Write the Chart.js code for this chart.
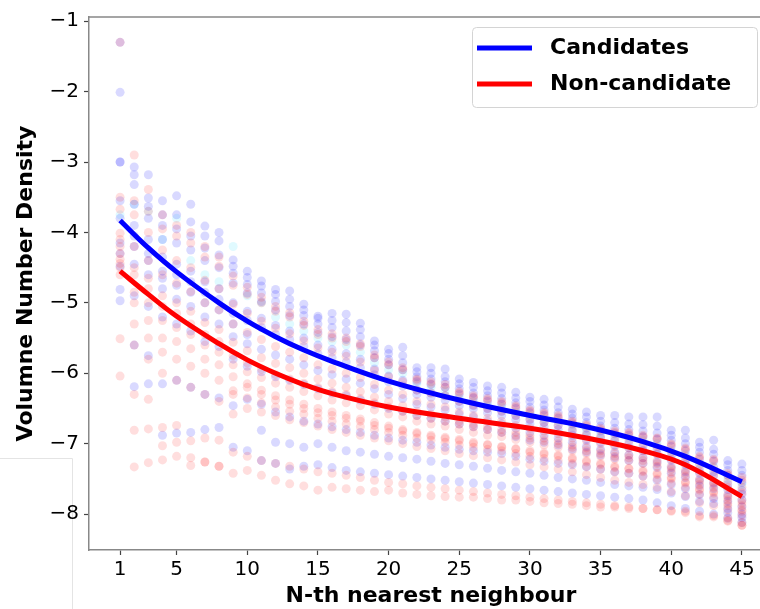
<!DOCTYPE html>
<html>
<head>
<meta charset="utf-8">
<script src="https://cdn.jsdelivr.net/npm/chart.js@4.4.1/dist/chart.umd.min.js"></script>
<style>
  html, body { margin: 0; padding: 0; background: #fff; overflow: hidden; }
  #wrap { position: absolute; left: 0; top: 0; width: 790px; height: 609px; }
</style>
</head>
<body>
<div id="wrap"><canvas id="densityChart"></canvas></div>
<script>
// N = 1..45
const nValues = [
  1, 2, 3, 4, 5, 6, 7, 8, 9, 10, 11, 12, 13, 14, 15, 16, 17, 18, 19, 20,
  21, 22, 23, 24, 25, 26, 27, 28, 29, 30, 31, 32, 33, 34, 35, 36, 37, 38, 39, 40,
  41, 42, 43, 44, 45,
];

const xTickValues = [1, 5, 10, 15, 20, 25, 30, 35, 40, 45];
const yTickValues = [-8, -7, -6, -5, -4, -3, -2, -1];

// fitted curves (read at a few N)
const curveN = [1, 3, 5, 8, 10, 12, 14, 16, 20, 25, 30, 34, 38, 41, 45];
const candidateCurve = [-3.83, -4.22, -4.56, -5.0, -5.26, -5.48, -5.67, -5.83, -6.11, -6.38, -6.6, -6.76, -6.97, -7.18, -7.54];
const nonCandidateCurve = [-4.55, -4.88, -5.19, -5.58, -5.81, -6.0, -6.16, -6.29, -6.48, -6.64, -6.78, -6.92, -7.1, -7.3, -7.75];

// one row per object: density at N = 1..45
const candidateTracks = [
  [-1.30, -3.07, -3.18, -3.55, -3.48, -3.60, -3.91, -4.00, -4.39, -4.55, -4.69, -4.81, -4.83, -5.02, -5.19, -5.15, -5.16, -5.29, -5.54, -5.66, -5.63, -5.92, -5.92, -5.94, -6.08, -6.13, -6.18, -6.20, -6.27, -6.34, -6.37, -6.39, -6.51, -6.55, -6.60, -6.60, -6.62, -6.62, -6.62, -6.81, -6.81, -6.98, -6.95, -7.24, -7.29],
  [-2.01, -3.18, -3.51, -3.75, -3.75, -3.85, -4.05, -4.12, -4.48, -4.64, -4.76, -4.88, -4.95, -5.10, -5.22, -5.25, -5.28, -5.38, -5.60, -5.72, -5.75, -5.98, -6.00, -6.05, -6.15, -6.20, -6.25, -6.28, -6.35, -6.40, -6.45, -6.48, -6.58, -6.62, -6.68, -6.70, -6.72, -6.73, -6.75, -6.88, -6.92, -7.05, -7.08, -7.30, -7.38],
  [-3.00, -3.32, -3.63, -3.90, -3.95, -4.05, -4.22, -4.32, -4.58, -4.74, -4.86, -4.98, -5.05, -5.18, -5.30, -5.35, -5.40, -5.48, -5.68, -5.80, -5.85, -6.05, -6.08, -6.12, -6.22, -6.28, -6.32, -6.36, -6.42, -6.48, -6.52, -6.56, -6.64, -6.70, -6.75, -6.78, -6.80, -6.82, -6.85, -6.95, -7.00, -7.12, -7.15, -7.38, -7.45],
  [-3.00, -3.60, -3.80, -4.10, -4.15, -4.25, -4.40, -4.50, -4.72, -4.86, -4.98, -5.10, -5.18, -5.30, -5.42, -5.48, -5.52, -5.60, -5.78, -5.88, -5.95, -6.12, -6.16, -6.20, -6.30, -6.35, -6.40, -6.44, -6.50, -6.56, -6.60, -6.64, -6.72, -6.78, -6.82, -6.86, -6.88, -6.90, -6.94, -7.04, -7.10, -7.22, -7.25, -7.45, -7.55],
  [-4.15, -4.05, -4.30, -4.55, -4.60, -4.70, -4.85, -4.95, -5.15, -5.25, -5.35, -5.45, -5.52, -5.62, -5.72, -5.78, -5.84, -5.92, -6.02, -6.12, -6.18, -6.30, -6.34, -6.38, -6.46, -6.50, -6.56, -6.60, -6.66, -6.72, -6.76, -6.80, -6.88, -6.94, -6.98, -7.02, -7.06, -7.10, -7.15, -7.24, -7.30, -7.42, -7.46, -7.65, -7.72],
  [-4.48, -4.45, -4.60, -4.80, -4.95, -5.05, -5.20, -5.30, -5.48, -5.58, -5.66, -5.74, -5.80, -5.88, -5.96, -6.02, -6.08, -6.14, -6.22, -6.30, -6.36, -6.44, -6.48, -6.52, -6.58, -6.62, -6.68, -6.72, -6.78, -6.84, -6.88, -6.92, -6.98, -7.04, -7.08, -7.12, -7.16, -7.20, -7.26, -7.34, -7.40, -7.52, -7.56, -7.74, -7.80],
  [-4.81, -4.90, -5.05, -5.20, -5.30, -5.40, -5.55, -5.62, -5.80, -5.90, -5.98, -6.05, -6.10, -6.16, -6.22, -6.28, -6.32, -6.38, -6.44, -6.50, -6.54, -6.60, -6.64, -6.68, -6.72, -6.76, -6.80, -6.84, -6.90, -6.95, -6.98, -7.02, -7.08, -7.12, -7.16, -7.20, -7.24, -7.28, -7.34, -7.42, -7.48, -7.60, -7.64, -7.82, -7.90],
  [-4.97, -6.19, -6.15, -6.88, -6.85, -6.84, -6.80, -6.77, -6.46, -6.37, -6.44, -6.55, -6.62, -6.68, -6.72, -6.76, -6.80, -6.84, -6.88, -6.92, -6.95, -6.98, -7.02, -7.05, -7.08, -7.10, -7.12, -7.14, -7.18, -7.22, -7.25, -7.28, -7.30, -7.33, -7.36, -7.40, -7.42, -7.46, -7.52, -7.58, -7.64, -7.72, -7.78, -7.92, -8.00],
  [-4.30, -5.60, -5.75, -6.15, -6.10, -6.20, -6.30, -6.35, -7.05, -7.10, -6.81, -6.98, -7.00, -7.05, -7.00, -7.05, -7.10, -7.12, -7.15, -7.18, -7.20, -7.22, -7.25, -7.28, -7.30, -7.32, -7.35, -7.38, -7.40, -7.42, -7.45, -7.48, -7.50, -7.52, -7.55, -7.58, -7.60, -7.62, -7.65, -7.70, -7.75, -7.82, -7.85, -7.98, -8.05],
  [-3.55, -3.90, -4.10, -4.35, -4.45, -4.55, -4.70, -4.80, -5.00, -5.12, -5.22, -5.32, -5.40, -5.50, -5.60, -5.66, -5.72, -5.80, -5.94, -6.04, -6.10, -6.24, -6.28, -6.32, -6.40, -6.46, -6.50, -6.54, -6.60, -6.66, -6.70, -6.74, -6.82, -6.88, -6.92, -6.96, -7.00, -7.04, -7.08, -7.18, -7.24, -7.36, -7.40, -7.58, -7.66],
  [-3.80, -4.20, -4.40, -4.65, -4.75, -4.85, -5.00, -5.10, -5.30, -5.45, -7.24, -7.28, -7.36, -7.32, -7.30, -7.34, -7.38, -7.40, -7.42, -7.44, -7.46, -7.48, -7.50, -7.52, -7.54, -7.56, -7.58, -7.60, -7.62, -7.64, -7.66, -7.68, -7.70, -7.72, -7.74, -7.76, -7.78, -7.80, -7.84, -7.88, -7.92, -7.96, -8.00, -8.06, -8.12],
];

const nonCandidateTracks = [
  [-1.30, -3.55, -3.70, -3.95, -4.05, -4.15, -4.35, -4.48, -4.75, -4.88, -5.00, -5.12, -5.20, -5.32, -5.45, -5.50, -5.55, -5.62, -5.78, -5.88, -5.95, -6.10, -6.15, -6.20, -6.28, -6.34, -6.38, -6.42, -6.48, -6.54, -6.58, -6.62, -6.70, -6.75, -6.80, -6.84, -6.86, -6.90, -6.93, -7.02, -7.08, -7.20, -7.24, -7.45, -7.52],
  [-3.50, -2.90, -3.39, -3.75, -3.90, -4.00, -4.20, -4.35, -4.62, -4.78, -4.92, -5.05, -5.14, -5.26, -5.38, -5.44, -5.50, -5.58, -5.74, -5.84, -5.92, -6.08, -6.12, -6.16, -6.26, -6.32, -6.36, -6.40, -6.46, -6.52, -6.56, -6.60, -6.68, -6.73, -6.78, -6.82, -6.84, -6.88, -6.92, -7.00, -7.06, -7.18, -7.22, -7.42, -7.48],
  [-3.67, -3.75, -4.00, -4.25, -4.40, -4.50, -4.68, -4.80, -5.02, -5.15, -5.26, -5.36, -5.44, -5.54, -5.64, -5.70, -5.76, -5.84, -5.96, -6.05, -6.12, -6.24, -6.28, -6.32, -6.40, -6.45, -6.50, -6.54, -6.60, -6.65, -6.70, -6.74, -6.80, -6.86, -6.90, -6.94, -6.96, -7.00, -7.04, -7.12, -7.18, -7.30, -7.34, -7.54, -7.62],
  [-4.01, -4.20, -4.40, -4.60, -4.72, -4.84, -5.00, -5.10, -5.30, -5.42, -5.52, -5.62, -5.70, -5.78, -5.88, -5.94, -6.00, -6.06, -6.16, -6.24, -6.30, -6.40, -6.44, -6.48, -6.55, -6.60, -6.64, -6.68, -6.74, -6.78, -6.82, -6.86, -6.92, -6.96, -7.00, -7.04, -7.06, -7.10, -7.14, -7.22, -7.28, -7.40, -7.44, -7.62, -7.70],
  [-4.30, -4.50, -4.65, -4.90, -5.00, -5.12, -5.28, -5.38, -5.56, -5.68, -5.78, -5.86, -5.92, -6.00, -6.08, -6.14, -6.20, -6.26, -6.34, -6.40, -6.46, -6.54, -6.58, -6.62, -6.68, -6.72, -6.76, -6.80, -6.84, -6.88, -6.92, -6.96, -7.02, -7.06, -7.10, -7.14, -7.16, -7.20, -7.24, -7.32, -7.38, -7.50, -7.55, -7.72, -7.80],
  [-4.44, -4.85, -5.00, -5.25, -5.35, -5.45, -5.60, -5.70, -5.88, -5.98, -6.06, -6.14, -6.20, -6.26, -6.32, -6.38, -6.42, -6.46, -6.52, -6.58, -6.62, -6.68, -6.72, -6.75, -6.80, -6.84, -6.88, -6.90, -6.94, -6.98, -7.02, -7.05, -7.10, -7.14, -7.18, -7.22, -7.24, -7.28, -7.32, -7.40, -7.46, -7.58, -7.62, -7.80, -7.88],
  [-5.51, -5.30, -5.50, -5.70, -5.80, -5.90, -6.00, -6.10, -6.25, -6.35, -6.42, -6.48, -6.54, -6.58, -6.64, -6.68, -6.72, -6.76, -6.80, -6.84, -6.88, -6.92, -6.95, -6.98, -7.02, -7.05, -7.08, -7.10, -7.14, -7.18, -7.21, -7.24, -7.28, -7.32, -7.36, -7.40, -7.42, -7.46, -7.50, -7.56, -7.62, -7.72, -7.76, -7.94, -8.02],
  [-6.04, -6.30, -6.37, -6.77, -6.74, -6.96, -6.92, -6.95, -6.58, -6.50, -6.55, -6.60, -6.66, -6.70, -6.75, -6.80, -6.84, -6.88, -6.92, -6.96, -7.00, -7.04, -7.07, -7.10, -7.14, -7.17, -7.20, -7.23, -7.26, -7.30, -7.33, -7.36, -7.40, -7.44, -7.48, -7.52, -7.55, -7.58, -7.62, -7.68, -7.74, -7.84, -7.88, -8.05, -8.12],
  [-4.20, -6.81, -6.79, -7.03, -6.98, -7.31, -7.26, -7.32, -7.12, -7.18, -7.24, -7.28, -7.32, -7.36, -7.40, -7.42, -7.45, -7.48, -7.52, -7.55, -7.57, -7.60, -7.62, -7.64, -7.66, -7.68, -7.70, -7.72, -7.74, -7.76, -7.78, -7.80, -7.82, -7.84, -7.86, -7.88, -7.90, -7.92, -7.94, -7.96, -7.98, -8.02, -8.04, -8.10, -8.16],
  [-4.50, -7.33, -7.27, -7.23, -7.18, -7.20, -7.26, -7.32, -7.42, -7.38, -7.45, -7.52, -7.57, -7.60, -7.66, -7.62, -7.64, -7.66, -7.68, -7.66, -7.70, -7.72, -7.74, -7.75, -7.76, -7.76, -7.78, -7.80, -7.80, -7.82, -7.84, -7.85, -7.86, -7.88, -7.90, -7.90, -7.92, -7.92, -7.94, -7.95, -7.96, -8.04, -8.02, -8.09, -8.16],
  [-4.10, -4.60, -4.80, -5.05, -5.15, -5.30, -5.45, -5.55, -5.75, -5.85, -5.94, -6.02, -6.08, -6.14, -6.20, -6.26, -6.30, -6.36, -6.42, -6.48, -6.54, -6.60, -6.64, -6.68, -6.72, -6.76, -6.80, -6.84, -6.88, -6.92, -6.96, -7.00, -7.05, -7.10, -7.14, -7.18, -7.20, -7.24, -7.28, -7.36, -7.42, -7.54, -7.58, -7.76, -7.84],
  [-4.60, -5.60, -5.80, -6.00, -6.10, -6.20, -6.30, -6.40, -6.30, -6.20, -6.30, -6.38, -6.44, -6.50, -6.56, -6.60, -6.64, -6.68, -6.74, -6.78, -6.82, -6.86, -6.90, -6.93, -6.96, -7.00, -7.02, -7.05, -7.08, -7.12, -7.15, -7.18, -7.22, -7.26, -7.30, -7.34, -7.36, -7.40, -7.44, -7.50, -7.56, -7.66, -7.70, -7.88, -7.96],
  [-4.38, -5.00, -5.25, -5.50, -5.55, -5.65, -5.80, -5.88, -6.05, -6.15, -6.24, -6.32, -6.38, -6.44, -6.50, -6.55, -6.60, -6.65, -6.70, -6.75, -6.80, -6.84, -6.88, -6.91, -6.94, -6.98, -7.01, -7.04, -7.07, -7.10, -7.13, -7.16, -7.20, -7.24, -7.28, -7.32, -7.35, -7.38, -7.42, -7.48, -7.54, -7.64, -7.68, -7.85, -7.94],
];

// a few faint cyan points
const otherTracks = [
  [-3.75, -3.60, -3.70, -4.10, -3.80, -4.40, -4.60, -4.70, -4.20, -4.90, -5.00, -5.20, -5.30, -5.40, -5.50, -5.55, -5.60, -5.70, -5.85, -5.95, -6.00, -6.15, -6.20, -6.25, -6.35, -6.40, -6.45, -6.48, -6.55, -6.60, -6.65, -6.68, -6.76, -6.82, -6.86, -6.90, -6.92, -6.95, -7.00, -7.10, -7.15, -7.28, -7.32, -7.50, -7.58],
];

const toPoints = (row) => row.map((v, i) => ({ x: nValues[i], y: v }));

const scatterSet = (row, color) => ({
  type: "scatter",
  data: toPoints(row),
  backgroundColor: color,
  borderWidth: 0,
  pointRadius: 4.5,
  pointHoverRadius: 4.5,
  order: 1,
});

const curveSet = (label, values, color) => ({
  type: "line",
  label: label,
  isCurve: true,
  data: curveN.map((n, i) => ({ x: n, y: values[i] })),
  borderColor: color,
  borderWidth: 5,
  pointRadius: 0,
  tension: 0.4,
  fill: false,
  order: 0,
});

const datasets = [
  ...nonCandidateTracks.map((r) => scatterSet(r, "rgba(255,0,0,0.13)")),
  ...candidateTracks.map((r) => scatterSet(r, "rgba(0,0,255,0.15)")),
  ...otherTracks.map((r) => scatterSet(r, "rgba(0,210,255,0.12)")),
  curveSet("Candidates", candidateCurve, "#0000ff"),
  curveSet("Non-candidate", nonCandidateCurve, "#ff0000"),
];

// top/right spine, legend box, and the faint stray frame at bottom-left
const framePlugin = {
  id: "frame",
  beforeDraw(chart) {
    const c = chart.ctx;
    c.save();
    c.strokeStyle = "#e4e4e4";
    c.lineWidth = 1;
    c.beginPath();
    c.moveTo(0, 458.5);
    c.lineTo(72.5, 458.5);
    c.lineTo(72.5, 609);
    c.stroke();
    c.restore();
  },
  afterDraw(chart) {
    const c = chart.ctx;
    const a = chart.chartArea;
    c.save();
    c.strokeStyle = "#888";
    c.lineWidth = 1.5;
    c.beginPath();
    c.moveTo(a.left, a.top);
    c.lineTo(a.right, a.top);
    c.lineTo(a.right, a.bottom);
    c.stroke();

    // legend
    c.fillStyle = "rgba(255,255,255,0.85)";
    c.strokeStyle = "#d4d4d4";
    c.lineWidth = 1;
    c.beginPath();
    c.roundRect(472.5, 27.5, 285, 80, 4);
    c.fill();
    c.stroke();

    const curves = chart.data.datasets.filter((d) => d.isCurve);
    c.font = "bold 22px 'DejaVu Sans'";
    c.textBaseline = "middle";
    c.textAlign = "left";
    curves.forEach((d, i) => {
      const y = 48 + i * 36;
      c.strokeStyle = d.borderColor;
      c.lineWidth = 5;
      c.beginPath();
      c.moveTo(477, y);
      c.lineTo(532, y);
      c.stroke();
      c.fillStyle = "#000";
      c.fillText(d.label, 550, y);
    });
    c.restore();
  },
};

const tickFont = { family: "DejaVu Sans", size: 20 };
const titleFont = { family: "DejaVu Sans", size: 22, weight: "bold" };

new Chart(document.getElementById("densityChart"), {
  type: "scatter",
  data: { datasets },
  plugins: [framePlugin],
  options: {
    responsive: true,
    maintainAspectRatio: false,
    animation: false,
    layout: { padding: { left: 0, top: 15, right: 17, bottom: 0 } },
    plugins: {
      legend: { display: false },
      tooltip: { enabled: false },
    },
    scales: {
      x: {
        type: "linear",
        min: -1.2,
        max: 47.2,
        afterBuildTicks: (s) => {
          s.ticks = xTickValues.map((v) => ({ value: v }));
        },
        afterFit: (s) => {
          s.height = 59;
        },
        ticks: { color: "#000", font: tickFont, padding: 3 },
        grid: { drawOnChartArea: false, tickLength: 5, tickColor: "#444", tickWidth: 1.2 },
        border: { color: "#888", width: 1.5 },
        title: { display: true, text: "N-th nearest neighbour", color: "#000", font: titleFont, padding: 0 },
      },
      y: {
        type: "linear",
        min: -8.51,
        max: -0.94,
        afterBuildTicks: (s) => {
          s.ticks = yTickValues.map((v) => ({ value: v }));
        },
        afterFit: (s) => {
          s.width = 89;
        },
        ticks: {
          color: "#000",
          font: tickFont,
          padding: 5,
          callback: (v) => "\u2212" + Math.abs(v),
        },
        grid: { drawOnChartArea: false, tickLength: 5, tickColor: "#444", tickWidth: 1.2 },
        border: { color: "#888", width: 1.5 },
        title: { display: true, text: "Volumne Number Density", color: "#000", font: titleFont, padding: { top: 13, bottom: 0 } },
      },
    },
  },
});
</script>
</body>
</html>
